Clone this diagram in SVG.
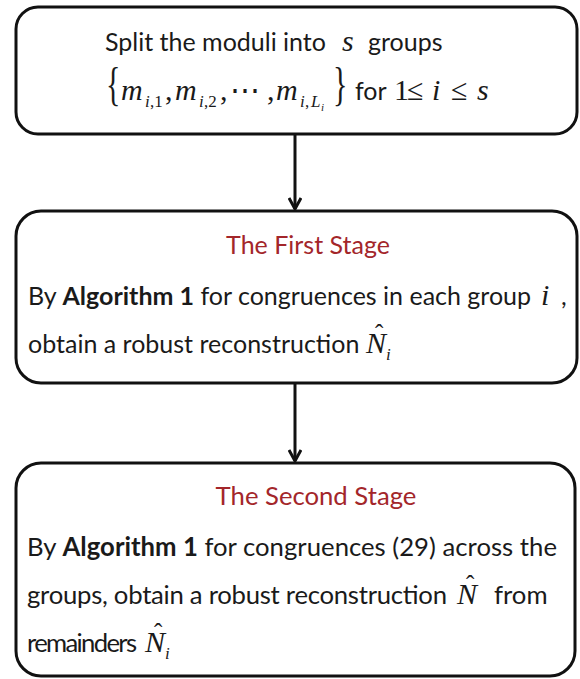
<svg xmlns="http://www.w3.org/2000/svg" width="580" height="679" viewBox="0 0 580 679">
<style>
.box{fill:#ffffff;stroke:#111111;stroke-width:3}
.t{font-family:Lato,"Liberation Sans",sans-serif;font-size:25px;fill:#1a1a1a}
.t3{font-family:Lato,"Liberation Sans",sans-serif;font-size:25.7px;fill:#1a1a1a}
.b{font-weight:bold}
.title{font-family:Lato,"Liberation Sans",sans-serif;font-size:25px;fill:#a3262a;text-anchor:middle}
.mi{font-family:"Liberation Serif","DejaVu Serif",serif;font-style:italic;font-size:30px;fill:#1a1a1a}
.mr{font-family:"Liberation Serif","DejaVu Serif",serif;font-style:normal;font-size:30px;fill:#1a1a1a}
.sub{font-family:"Liberation Serif",serif;font-style:normal;font-size:17px}
.subi{font-family:"Liberation Serif",serif;font-style:italic;font-size:17px}
.ssub{font-family:"Liberation Serif",serif;font-style:italic;font-size:11px}
.hat{font-family:"Liberation Serif",serif;font-style:normal;font-size:25px}
.conn{stroke:#111111;stroke-width:3;fill:none}
</style>
<defs>
<marker id="arr" markerWidth="14" markerHeight="14" viewBox="0 0 14 14" refX="12" refY="7" orient="auto" markerUnits="userSpaceOnUse">
<path d="M1,1 L12,7 L1,13" fill="none" stroke="#111111" stroke-width="3"/>
</marker>
</defs>
<g id="connectors">
<line class="conn" x1="295" y1="134" x2="295" y2="209" marker-end="url(#arr)"/>
<line class="conn" x1="295" y1="383" x2="295" y2="461" marker-end="url(#arr)"/>
</g>
<g id="node-split">
<rect class="box" x="16" y="7" width="561" height="127" rx="22"/>
<text class="t" x="105" y="51">Split the moduli into</text>
<text class="mi" x="342" y="51">s</text>
<text class="t" x="368" y="51">groups</text>
<text class="mr" transform="translate(106,100) scale(1,1.55)">{</text>
<text class="mi" x="121" y="100">m<tspan class="subi" x="145" y="107">i</tspan><tspan class="sub" x="150" y="107">,1</tspan><tspan class="mr" x="165" y="100">,</tspan><tspan x="175" y="100">m</tspan><tspan class="subi" x="199" y="107">i</tspan><tspan class="sub" x="204" y="107">,2</tspan><tspan class="mr" x="220" y="100">,</tspan><tspan class="mr" x="230" y="100">⋯</tspan><tspan class="mr" x="267" y="100">,</tspan><tspan x="276" y="100">m</tspan><tspan class="subi" x="300" y="107">i</tspan><tspan class="sub" x="305" y="107">,</tspan><tspan class="subi" x="311" y="107">L</tspan><tspan class="ssub" x="321" y="111">i</tspan></text>
<text class="mr" transform="translate(333,100) scale(1,1.55)">}</text>
<text class="t" x="355" y="100">for</text>
<text class="mr" x="394" y="100">1<tspan x="407">≤</tspan><tspan class="mi" x="432">i</tspan><tspan x="451">≤</tspan><tspan class="mi" x="477">s</tspan></text>
</g>
<g id="node-first-stage">
<rect class="box" x="16" y="211" width="561" height="172" rx="25"/>
<text class="title" x="308" y="254">The First Stage</text>
<text class="t" x="28" y="305">By <tspan class="b">Algorithm 1</tspan> for congruences in each group</text>
<text class="mi" x="541" y="305">i</text>
<text class="t" x="561" y="305">,</text>
<text class="t" x="28" y="353">obtain a robust reconstruction</text>
<text class="mi" x="366" y="353">N<tspan class="hat" x="375" y="342">ˆ</tspan><tspan class="subi" x="386" y="360">i</tspan></text>
</g>
<g id="node-second-stage">
<rect class="box" x="16" y="463" width="559" height="213" rx="25"/>
<text class="title" x="316" y="505" style="font-size:25.7px">The Second Stage</text>
<text class="t3" x="27" y="556" textLength="530" lengthAdjust="spacing">By <tspan class="b">Algorithm 1</tspan> for congruences (29) across the</text>
<text class="t3" x="27" y="604" textLength="420" lengthAdjust="spacing">groups, obtain a robust reconstruction</text>
<text class="mi" x="457" y="604">N<tspan class="hat" x="466" y="593">ˆ</tspan></text>
<text class="t3" x="494" y="604">from</text>
<text class="t3" x="27" y="652" textLength="110" lengthAdjust="spacing">remainders</text>
<text class="mi" x="145" y="652">N<tspan class="hat" x="154" y="641">ˆ</tspan><tspan class="subi" x="165" y="659">i</tspan></text>
</g>
</svg>
